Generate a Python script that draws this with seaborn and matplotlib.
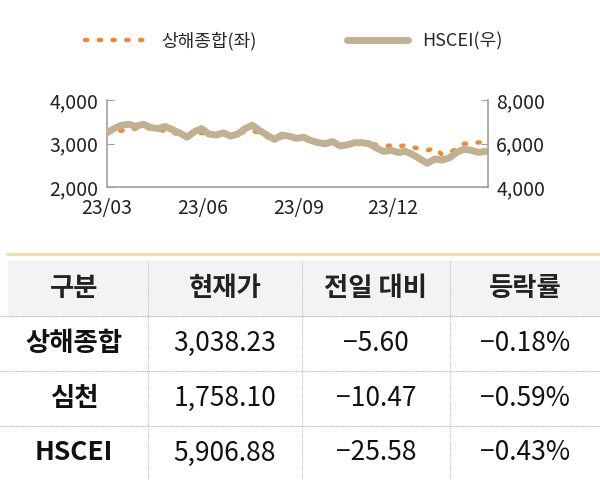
import matplotlib
matplotlib.use('Agg')
import matplotlib.pyplot as plt
import numpy as np
import pandas as pd
import seaborn as sns

sns.set_style('white')
plt.rcParams['font.family'] = ['Noto Sans CJK KR', 'DejaVu Sans']

# weekly closes, 2023-03 ~ 2024-03
weeks = pd.date_range('2023-03-01', '2024-03-01', freq='7D')
hscei = [6500, 6700, 6850, 6900, 6800, 6900, 6750, 6700, 6800, 6650,
         6500, 6300, 6550, 6700, 6450, 6400, 6500, 6350, 6450, 6700,
         6850, 6600, 6400, 6200, 6400, 6350, 6250, 6300, 6150, 6050,
         6000, 6100, 5900, 5950, 6050, 6050, 6000, 5800, 5650, 5700,
         5600, 5650, 5500, 5300, 5100, 5300, 5250, 5350, 5600, 5750,
         5700, 5600, 5650]
shanghai = [3250, 3280, 3300, 3330, 3350, 3380, 3350, 3320, 3300, 3250,
            3220, 3150, 3230, 3250, 3200, 3200, 3220, 3200, 3230, 3280,
            3300, 3250, 3150, 3100, 3150, 3130, 3110, 3100, 3060, 3020,
            2990, 3050, 2960, 2980, 3000, 3030, 3020, 2970, 2940, 2960,
            2930, 2970, 2920, 2880, 2850, 2900, 2750, 2800, 2880, 3000,
            3010, 3030, 3040]
xticks = ['2023-03-01', '2023-06-01', '2023-09-01', '2023-12-01']
xlabels = ['23/03', '23/06', '23/09', '23/12']

# table
cols = ['구분', '현재가', '전일 대비', '등락률']
names = ['상해종합', '심천', 'HSCEI']
prices = ['3,038.23', '1,758.10', '5,906.88']
changes = ['\u22125.60', '\u221210.47', '\u221225.58']
rates = ['\u22120.18%', '\u22120.59%', '\u22120.43%']

fig = plt.figure(figsize=(6, 4.8), dpi=100)
ax = fig.add_axes([0.178, 0.610, 0.635, 0.181])
ax2 = ax.twinx()

sns.lineplot(x=weeks, y=shanghai, ax=ax, color='#f08a30', lw=3.2,
             linestyle=(0, (0.5, 2.6)), dash_capstyle='round', label='상해종합(좌)', legend=False)
sns.lineplot(x=weeks, y=hscei, ax=ax2, color='#c2b092', lw=5, label='HSCEI(우)', legend=False)

ax.set_ylim(2000, 4000)
ax2.set_ylim(4000, 8000)
ax.set_yticks([2000, 3000, 4000])
ax2.set_yticks([4000, 6000, 8000])
ax.yaxis.set_major_formatter(matplotlib.ticker.StrMethodFormatter('{x:,.0f}'))
ax2.yaxis.set_major_formatter(matplotlib.ticker.StrMethodFormatter('{x:,.0f}'))
ax.set_xlim(pd.Timestamp('2023-03-01'), pd.Timestamp('2024-03-01'))
ax.set_xticks(pd.to_datetime(xticks))
ax.set_xticklabels(xlabels)
ax.set_xlabel('')
ax.set_ylabel('')
ax2.set_ylabel('')
for a in (ax, ax2):
    for s in a.spines.values():
        s.set_visible(False)
    a.tick_params(labelsize=14, colors='#222222', length=5, color='#a0a0a0', direction='in')
ax.tick_params(axis='x', pad=8)
ax.tick_params(axis='y', pad=6)
ax2.tick_params(axis='y', pad=6)
for s in [ax.spines['left'], ax2.spines['right'], ax.spines['bottom']]:
    s.set_visible(True)
    s.set_color('#a0a0a0')
    s.set_linewidth(1.2)

h1, l1 = ax.get_legend_handles_labels()
h2, l2 = ax2.get_legend_handles_labels()
fig.legend(h1 + h2, l1 + l2, ncol=2, loc='center', bbox_to_anchor=(0.49, 0.915),
           frameon=False, fontsize=13, handlelength=3.4, columnspacing=5)

# table drawing
tab = fig.add_axes([0, 0, 1, 0.473])
tab.set_xlim(0, 600)
tab.set_ylim(227, 0)
tab.axis('off')
edges = [0, 148, 302, 450, 600]
rows_y = [8, 63, 118, 173, 227]
tab.add_patch(plt.Rectangle((8, 8), 592, 55, color='#f3f3f3', zorder=0))
tab.plot([8, 600], [1.5, 1.5], color='#f5dca8', lw=3)
for y in rows_y[1:-1]:
    tab.plot([0, 600], [y, y], color='#b0b0b0', lw=0.8, ls=(0, (1, 1)))
for x in edges[1:-1]:
    tab.plot([x, x], [8, 227], color='#c0c0c0', lw=0.8, ls=(0, (1, 1)))
centers = [(edges[i] + edges[i + 1]) / 2 for i in range(4)]
for i, c in enumerate(cols):
    tab.text(centers[i], 36, c, ha='center', va='center', fontsize=19, fontweight='bold', color='#222222')
for r in range(3):
    yc = (rows_y[r + 1] + rows_y[r + 2]) / 2
    vals = [names[r], prices[r], changes[r], rates[r]]
    for i, v in enumerate(vals):
        tab.text(centers[i], yc, v, ha='center', va='center', fontsize=19,
                 fontweight='bold' if i == 0 else 'normal', color='#111111')

fig.savefig('out.png', dpi=100)
